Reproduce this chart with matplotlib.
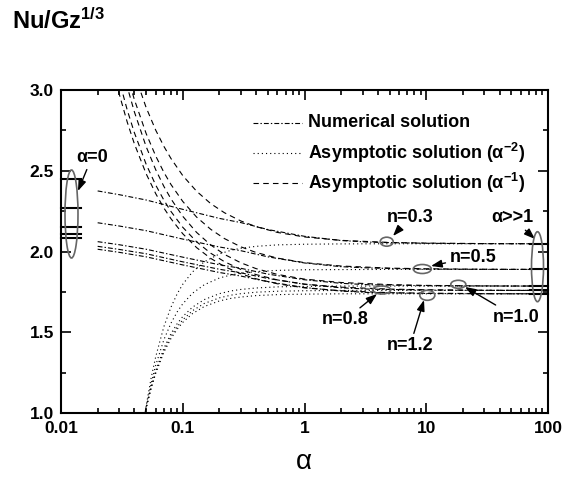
import matplotlib
matplotlib.use('Agg')
import matplotlib.pyplot as plt
from matplotlib.patches import Ellipse
from matplotlib.lines import Line2D
from matplotlib.ticker import MultipleLocator, LogLocator, NullFormatter

plt.rcParams['font.family'] = ['Liberation Sans', 'DejaVu Sans']
plt.rcParams['font.weight'] = 'bold'
plt.rcParams['lines.scale_dashes'] = False

# ---------------- data ----------------
n_labels = ['n=0.3', 'n=0.5', 'n=0.8', 'n=1.0', 'n=1.2']
alpha_zero_limits = [2.451, 2.269, 2.152, 2.110, 2.082]
alpha_large_limits = [2.048, 1.889, 1.786, 1.759, 1.738]

alpha_num = [0.02, 0.03, 0.05, 0.1, 0.2, 0.3, 0.5, 1, 2, 3.4, 5, 10, 20, 50, 100]
num_n03 = [2.375, 2.352, 2.319, 2.261, 2.205, 2.179, 2.136, 2.094, 2.068, 2.058, 2.055, 2.051, 2.049, 2.048, 2.048]
num_n05 = [2.178, 2.158, 2.129, 2.077, 2.028, 2.005, 1.967, 1.929, 1.906, 1.898, 1.895, 1.891, 1.890, 1.889, 1.889]
num_n08 = [2.061, 2.042, 2.014, 1.965, 1.918, 1.896, 1.860, 1.825, 1.803, 1.794, 1.792, 1.788, 1.787, 1.786, 1.786]
num_n10 = [2.032, 2.013, 1.986, 1.936, 1.890, 1.868, 1.833, 1.797, 1.775, 1.767, 1.765, 1.761, 1.760, 1.759, 1.759]
num_n12 = [2.014, 1.995, 1.967, 1.917, 1.870, 1.848, 1.813, 1.777, 1.755, 1.746, 1.744, 1.740, 1.739, 1.738, 1.738]

alpha_asym2 = [0.048, 0.05, 0.055, 0.06, 0.07, 0.08, 0.09, 0.1, 0.12, 0.15, 0.2, 0.25, 0.3, 0.4, 0.6, 1, 2, 5, 10, 30, 100]
asym2_n03 = [0.956, 1.042, 1.217, 1.349, 1.535, 1.655, 1.738, 1.797, 1.873, 1.936, 1.985, 2.008, 2.020, 2.032, 2.041, 2.045, 2.047, 2.048, 2.048, 2.048, 2.048]
asym2_n05 = [0.963, 1.036, 1.184, 1.296, 1.454, 1.556, 1.626, 1.676, 1.741, 1.794, 1.836, 1.855, 1.865, 1.876, 1.883, 1.887, 1.888, 1.889, 1.889, 1.889, 1.889]
asym2_n08 = [0.967, 1.031, 1.162, 1.262, 1.401, 1.491, 1.553, 1.597, 1.655, 1.702, 1.739, 1.756, 1.765, 1.774, 1.781, 1.784, 1.786, 1.786, 1.786, 1.786, 1.786]
asym2_n10 = [0.968, 1.030, 1.157, 1.253, 1.387, 1.474, 1.534, 1.577, 1.633, 1.678, 1.713, 1.730, 1.739, 1.748, 1.754, 1.757, 1.759, 1.759, 1.759, 1.759, 1.759]
asym2_n12 = [0.969, 1.030, 1.153, 1.246, 1.377, 1.461, 1.519, 1.561, 1.615, 1.659, 1.694, 1.710, 1.718, 1.727, 1.733, 1.736, 1.738, 1.738, 1.738, 1.738, 1.738]

alpha_asym1 = [0.025, 0.03, 0.035, 0.04, 0.05, 0.06, 0.07, 0.08, 0.1, 0.13, 0.17, 0.22, 0.3, 0.4, 0.6, 1, 2, 5, 10, 30, 100]
asym1_n03 = [3.736, 3.455, 3.254, 3.103, 2.892, 2.751, 2.651, 2.576, 2.470, 2.373, 2.296, 2.240, 2.189, 2.154, 2.118, 2.090, 2.069, 2.056, 2.052, 2.049, 2.048]
asym1_n05 = [3.573, 3.292, 3.092, 2.942, 2.731, 2.591, 2.490, 2.415, 2.310, 2.213, 2.137, 2.080, 2.029, 1.994, 1.959, 1.931, 1.910, 1.897, 1.893, 1.890, 1.889]
asym1_n08 = [3.514, 3.226, 3.020, 2.866, 2.650, 2.506, 2.403, 2.326, 2.218, 2.118, 2.040, 1.982, 1.930, 1.894, 1.858, 1.829, 1.808, 1.795, 1.790, 1.787, 1.786]
asym1_n10 = [3.323, 3.062, 2.876, 2.737, 2.541, 2.411, 2.318, 2.248, 2.150, 2.060, 1.989, 1.937, 1.889, 1.857, 1.824, 1.798, 1.779, 1.767, 1.763, 1.760, 1.759]
asym1_n12 = [3.226, 2.978, 2.801, 2.668, 2.482, 2.358, 2.269, 2.203, 2.110, 2.024, 1.957, 1.907, 1.862, 1.831, 1.800, 1.775, 1.757, 1.745, 1.742, 1.739, 1.738]

x_ticks = [0.01, 0.1, 1, 10, 100]
x_tick_labels = ['0.01', '0.1', '1', '10', '100']
y_ticks = [1.0, 1.5, 2.0, 2.5, 3.0]
y_tick_labels = ['1.0', '1.5', '2.0', '2.5', '3.0']

# ---------------- styles ----------------
W, H = 574, 478
LS_NUM = (0, (3.5, 1.5, 1.0, 1.5))
LS_DOT = (0, (0.8, 2.2))
LS_DASH = (0, (4.0, 3.0))
LW = 0.8


def fp(x, y):
    return (x / W, 1 - y / H)


fig = plt.figure(figsize=(W / 100, H / 100), dpi=100)
ax = fig.add_axes([61 / W, 1 - 413 / H, 487 / W, 323 / H])
ax.set_xscale('log')
ax.set_xlim(0.01, 100)
ax.set_ylim(1.0, 3.0)

for ys in [num_n03, num_n05, num_n08, num_n10, num_n12]:
    ax.plot(alpha_num, ys, color='black', lw=LW, linestyle=LS_NUM)
for ys in [asym2_n03, asym2_n05, asym2_n08, asym2_n10, asym2_n12]:
    ax.plot(alpha_asym2, ys, color='black', lw=LW, linestyle=LS_DOT)
for ys in [asym1_n03, asym1_n05, asym1_n08, asym1_n10, asym1_n12]:
    ax.plot(alpha_asym1, ys, color='black', lw=LW, linestyle=LS_DASH)

# limit marks
yt = ax.get_yaxis_transform()
for v in alpha_zero_limits:
    ax.plot([0, 0.042], [v, v], transform=yt, color='black', lw=1.5, clip_on=False)
for v in alpha_large_limits:
    ax.plot([0.963, 1.0], [v, v], transform=yt, color='black', lw=1.5, clip_on=False)

# axes styling
for s in ax.spines.values():
    s.set_linewidth(1.5)
ax.set_xticks(x_ticks, labels=x_tick_labels)
ax.xaxis.set_minor_locator(LogLocator(base=10, subs=[2, 3, 4, 5, 6, 7, 8, 9]))
ax.xaxis.set_minor_formatter(NullFormatter())
ax.set_yticks(y_ticks, labels=y_tick_labels)
ax.yaxis.set_minor_locator(MultipleLocator(0.25))
ax.tick_params(which='both', direction='in', top=True, right=True, width=1.2, labelsize=12.5)
ax.tick_params(which='major', length=7)
ax.tick_params(which='minor', length=3.5)
ax.tick_params(axis='x', which='major', pad=6)
ax.tick_params(axis='y', which='major', pad=5)

# legend (manual)
legend_rows = [('Numerical solution', LS_NUM, 123),
               (r'Asymptotic solution ($\mathregular{\alpha^{-2}}$)', LS_DOT, 153),
               (r'Asymptotic solution ($\mathregular{\alpha^{-1}}$)', LS_DASH, 183)]
for label, ls, yy in legend_rows:
    (x0, y0), (x1, _) = fp(253, yy), fp(302, yy)
    fig.add_artist(Line2D([x0, x1], [y0, y0], transform=fig.transFigure, color='black', lw=LW, linestyle=ls))
    fig.text(*fp(308, yy), label, fontsize=13, ha='left', va='center')

# ellipses
ellipses = [((71.5, 214), 13, 88), ((537.5, 266.7), 12, 70),
            ((386.7, 241.7), 13, 9), ((422.3, 269), 18, 9), ((458.3, 284.3), 15, 8),
            ((381.7, 290), 18, 8), ((427.3, 295.3), 15, 10)]
for (cx, cy), w, h in ellipses:
    fig.add_artist(Ellipse(fp(cx, cy), w / W, h / H, transform=fig.transFigure,
                           fill=False, edgecolor='#666666', lw=1.2))

# annotations
annots = [('α=0', (92, 157), (78, 191)),
          ('α>>1', (512, 218), (535, 239)),
          (n_labels[0], (410, 217), (393, 236)),
          (n_labels[1], (473, 257), (431, 266)),
          (n_labels[3], (516, 317), (465, 287)),
          (n_labels[2], (345, 320), (377, 294)),
          (n_labels[4], (410, 346), (424, 300))]
for txt, tpos, tip in annots:
    ax.annotate(txt, xy=fp(*tip), xytext=fp(*tpos), xycoords='figure fraction',
                textcoords='figure fraction', ha='center', va='center', fontsize=13,
                arrowprops=dict(arrowstyle='-|>,head_length=0.5,head_width=0.18',
                                color='black', lw=1.0, shrinkA=1, shrinkB=0))

fig.text(*fp(12, 21), r'Nu/Gz$\mathregular{^{1/3}}$', fontsize=17, ha='left', va='center')
fig.text(*fp(304, 462), 'α', fontsize=20, ha='center', va='center', fontweight='normal')

fig.savefig('out.png', dpi=100)
